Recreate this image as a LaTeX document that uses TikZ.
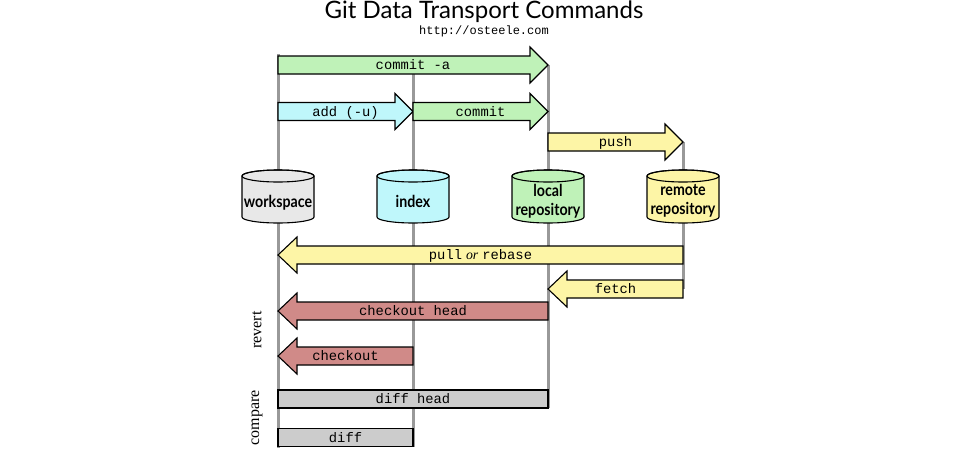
\documentclass[tikz,border=0pt]{standalone}
\usepackage{fontspec}
\setmainfont{Liberation Serif}
\setmonofont{Liberation Mono}
\newfontfamily\gill{Lato}
\newfontfamily\gillc[FakeStretch=0.86]{Lato}
\definecolor{cgreen}{HTML}{BFF2B8}
\definecolor{ccyan}{HTML}{BFF7FB}
\definecolor{cyellow}{HTML}{FDF5A6}
\definecolor{crose}{HTML}{D08A88}
\definecolor{cgraybox}{HTML}{CCCCCC}
\definecolor{cws}{HTML}{E8E8E8}
\definecolor{cline}{HTML}{999999}
\tikzset{
  vline/.style={draw=cline, line width=3pt},
  fatarrow/.style={draw=black, line width=1.1pt, line join=miter},
  armlabel/.style={font=\ttfamily\fontsize{13.8}{16}\selectfont, anchor=base, inner sep=0pt},
  cyllabel/.style={font=\gillc\bfseries\fontsize{16.5}{19.5}\selectfont, align=center, inner sep=0pt},
  sidelabel/.style={font=\fontsize{16}{18}\selectfont, rotate=90, inner sep=0pt},
}
% right-pointing arrow: name, x-start, x-tip, y, fill, label
\newcommand\fatR[6]{%
  \draw[fatarrow, fill=#5] (#2,#4-9) -- (#3-18,#4-9) -- (#3-18,#4-18) -- (#3,#4)
    -- (#3-18,#4+18) -- (#3-18,#4+9) -- (#2,#4+9) -- cycle;
  \node[armlabel] (#1) at ({(#2+#3)/2},#4+4.5) {#6};
}
% left-pointing arrow: name, x-tip, x-start, y, fill, label
\newcommand\fatL[6]{%
  \draw[fatarrow, fill=#5] (#3,#4-9) -- (#2+19,#4-9) -- (#2+19,#4-18) -- (#2,#4)
    -- (#2+19,#4+18) -- (#2+19,#4+9) -- (#3,#4+9) -- cycle;
  \node[armlabel] (#1) at ({(#2+#3)/2},#4+4.5) {#6};
}
% bar: name, x1, x2, y, label
\newcommand\fatB[5]{%
  \draw[fatarrow, fill=cgraybox] (#2,#4-9) rectangle (#3,#4+9);
  \node[armlabel] (#1) at ({(#2+#3)/2},#4+4.5) {#5};
}
% cylinder: name, x, fill
\newcommand\cyl[3]{%
  \draw[line width=1.1pt, fill=#3] (#2-36,176) -- (#2-36,217)
    arc[start angle=180, end angle=360, x radius=36pt, y radius=6pt]
    -- (#2+36,176)
    arc[start angle=0, end angle=180, x radius=36pt, y radius=6pt] -- cycle;
  \draw[line width=1.1pt] (#2,176) ellipse[x radius=36pt, y radius=6pt];
  \coordinate (#1) at (#2,200);
}
\begin{document}
\begin{tikzpicture}[x=1pt, y=-1pt]
\useasboundingbox[fill=white] (0,0) rectangle (960,448);
% title
\node[anchor=base, inner sep=0pt, font=\gill\fontsize{24}{27}\selectfont] (title) at (484,18) {Git Data Transport Commands};
\node[anchor=base, inner sep=0pt, font=\ttfamily\fontsize{12}{14}\selectfont] (url) at (484,34) {http://osteele.com};
% lifelines
\coordinate (wsT) at (278,54);  \coordinate (wsB) at (278,448);
\coordinate (ixT) at (413,65);  \coordinate (ixB) at (413,447);
\coordinate (lrT) at (548,65);  \coordinate (lrB) at (548,408);
\coordinate (rrT) at (683,142); \coordinate (rrB) at (683,289);
\draw[vline] (wsT) -- (wsB);
\draw[vline] (ixT) -- (ixB);
\draw[vline] (lrT) -- (lrB);
\draw[vline] (rrT) -- (rrB);
% stores
\cyl{ws}{278}{cws}
\cyl{ix}{413}{ccyan}
\cyl{lr}{548}{cgreen}
\cyl{rr}{683}{cyellow}
\node[cyllabel, anchor=base] (wsL) at (278,207) {workspace};
\node[cyllabel, anchor=base] (ixL) at (413,207) {index};
\node[cyllabel] (lrL) at (548,201) {local\\repository};
\node[cyllabel] (rrL) at (683,201) {remote\\repository};
% commands
\fatR{commita}{278}{548}{65}{cgreen}{commit -a}
\fatR{add}{278}{413}{111.5}{ccyan}{add (-u)}
\fatR{commit}{413}{548}{111.5}{cgreen}{commit}
\fatR{push}{548}{683}{142}{cyellow}{push}
\fatL{pull}{278}{683}{255}{cyellow}{pull\hspace{4pt}{\rmfamily\itshape or}\hspace{4pt}rebase}
\fatL{fetch}{548}{683}{289}{cyellow}{fetch}
\fatL{cohead}{278}{548}{311}{crose}{checkout head}
\fatL{co}{278}{413}{356}{crose}{checkout}
\fatB{diffhead}{278}{548}{399}{diff head}
\fatB{diff}{278}{413}{437.5}{diff}
% side labels
\node[sidelabel] (revert) at (257,330) {revert};
\node[sidelabel] (compare) at (257,418) {compare};
\end{tikzpicture}
\end{document}
